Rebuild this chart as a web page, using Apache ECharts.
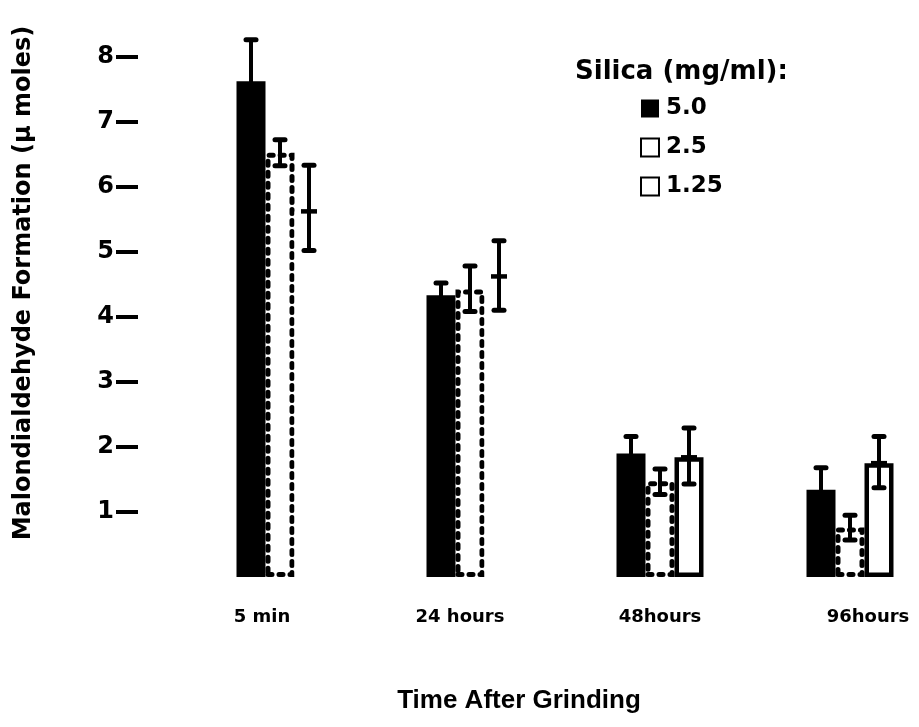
<!DOCTYPE html>
<html>
<head>
<meta charset="utf-8">
<script src="https://cdn.jsdelivr.net/npm/echarts@6/dist/echarts.min.js"></script>
<style>
html,body{margin:0;padding:0;background:#fff;}
#chart{width:919px;height:727px;}
</style>
</head>
<body>
<div id="chart"></div>
<script>
// ---- data ----
const categories = ['5 min', '24 hours', '48hours', '96hours'];
const seriesNames = ['5.0', '2.5', '1.25'];
const silica50 = [7.62, 4.33, 1.90, 1.34];
const silica25 = [6.52, 4.42, 1.47, 0.76];
const silica125 = [5.62, 4.62, 1.84, 1.75];
const err50High = [8.26, 4.52, 2.16, 1.68];
const err25High = [6.72, 4.78, 1.66, 0.95];
const err25Low = [6.32, 4.08, 1.27, 0.57];
const err125High = [6.33, 5.17, 2.29, 2.16];
const err125Low = [5.02, 4.10, 1.43, 1.37];
const yTicks = [1, 2, 3, 4, 5, 6, 7, 8];
const legendTitle = 'Silica (mg/ml):';
const yTitle = 'Malondialdehyde Formation (\u03bc moles)';
const xTitle = 'Time After Grinding';

const FONT = '"DejaVu Sans", Verdana, sans-serif';
const FONT2 = '"Liberation Sans", Arial, Helvetica, sans-serif';
const BAR_W = 29;

const chart = echarts.init(document.getElementById('chart'), null, {renderer: 'canvas'});

function errSeries(name, means, lows, highs, slot, showMean) {
  const data = means.map((m, i) => [i, lows ? lows[i] : m - (highs[i] - m), highs[i], m]);
  return {
    type: 'custom',
    name: name + '_err',
    z: 5,
    silent: true,
    clip: false,
    data: data,
    renderItem: function (params, api) {
      const ci = api.value(0);
      const lo = api.coord([ci, api.value(1)]);
      const hi = api.coord([ci, api.value(2)]);
      const mid = api.coord([ci, api.value(3)]);
      const x = lo[0] + slot * BAR_W;
      const capSt = {stroke: '#000', lineWidth: 5, lineCap: 'round'};
      const children = [
        {type: 'line', shape: {x1: x, y1: lo[1], x2: x, y2: hi[1]}, style: {stroke: '#000', lineWidth: 4}},
        {type: 'line', shape: {x1: x - 5, y1: hi[1], x2: x + 5, y2: hi[1]}, style: capSt},
        {type: 'line', shape: {x1: x - 5, y1: lo[1], x2: x + 5, y2: lo[1]}, style: capSt}
      ];
      if (showMean) {
        children.push({type: 'line', shape: {x1: x - 8, y1: mid[1], x2: x + 8, y2: mid[1]}, style: {stroke: '#000', lineWidth: 4.5}});
      }
      return {type: 'group', children: children};
    }
  };
}

const whiteData = silica125.map((v, i) => i < 2
  ? {value: v, itemStyle: {borderColor: 'rgba(0,0,0,0)', borderWidth: 0}}
  : v);

const labelRich = {fontFamily: FONT, fontSize: 18, fontWeight: 'bold', color: '#000'};

const option = {
  backgroundColor: '#fff',
  animation: false,
  textStyle: {fontFamily: FONT},
  title: [
    {text: legendTitle, left: 570, top: 54, textStyle: {fontFamily: FONT, fontSize: 26, fontWeight: 'bold', color: '#000'}},
    {text: xTitle, left: 514, top: 683, textAlign: 'center', textStyle: {fontFamily: FONT2, fontSize: 26, fontWeight: 'bold', color: '#000'}}
  ],
  legend: {
    data: seriesNames.map(n => ({name: n, icon: 'rect'})),
    orient: 'vertical',
    left: 635,
    top: 92,
    itemWidth: 18,
    itemHeight: 18,
    itemGap: 16,
    selectedMode: false,
    textStyle: {fontFamily: FONT, fontSize: 23, fontWeight: 'bold', color: '#000', padding: [0, 0, 0, 2]}
  },
  grid: {left: 185, width: 760, top: 11, bottom: 150, containLabel: false, outerBoundsMode: 'none'},
  xAxis: {
    type: 'category',
    data: categories,
    axisLine: {show: false},
    axisTick: {show: false},
    axisLabel: {
      margin: 31,
      fontFamily: FONT,
      fontSize: 18,
      fontWeight: 'bold',
      color: '#000',
      hideOverlap: false,
      formatter: function (v, i) { return '{l' + i + '|' + v + '}'; },
      rich: {
        l0: Object.assign({padding: [0, 36, 0, 0]}, labelRich),
        l1: Object.assign({padding: [0, 20, 0, 0]}, labelRich),
        l2: Object.assign({}, labelRich),
        l3: Object.assign({padding: [0, 0, 0, 36]}, labelRich)
      }
    }
  },
  yAxis: {
    type: 'value',
    min: 0,
    max: 8.7,
    interval: 1,
    offset: 47,
    splitLine: {show: false},
    axisLine: {show: false},
    axisTick: {show: true, length: 22, lineStyle: {color: '#000', width: 4}, customValues: yTicks},
    axisLabel: {margin: 24, fontFamily: FONT, fontSize: 24, fontWeight: 'bold', color: '#000', customValues: yTicks},
    name: yTitle,
    nameLocation: 'middle',
    nameGap: 102,
    nameTextStyle: {fontFamily: FONT, fontSize: 24, fontWeight: 'bold', color: '#000', padding: [0, 0, 0, 22]}
  },
  series: [
    {name: seriesNames[0], type: 'bar', data: silica50, barWidth: BAR_W, barGap: '0%',
     itemStyle: {color: '#000', borderColor: '#000', borderWidth: 0}},
    {name: seriesNames[1], type: 'bar', data: silica25, barWidth: BAR_W, barGap: '0%',
     itemStyle: {color: '#fff', borderColor: '#000', borderWidth: 5, borderType: [4, 7], borderCap: 'round'}},
    {name: seriesNames[2], type: 'bar', data: whiteData, barWidth: BAR_W, barGap: '0%',
     itemStyle: {color: '#fff', borderColor: '#000', borderWidth: 4.5}},
    errSeries('5.0', silica50, null, err50High, -1, false),
    errSeries('2.5', silica25, err25Low, err25High, 0, false),
    errSeries('1.25', silica125, err125Low, err125High, 1, true)
  ]
};
chart.setOption(option);
</script>
</body>
</html>
